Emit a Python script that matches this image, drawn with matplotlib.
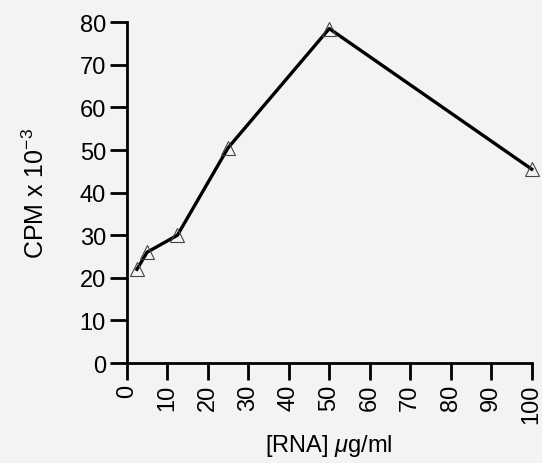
import matplotlib
matplotlib.use("Agg")
import matplotlib.pyplot as plt

rna = [2.5, 5, 12.5, 25, 50, 100]
cpm = [22, 26, 30, 50.5, 78.5, 45.5]
xticks = [0, 10, 20, 30, 40, 50, 60, 70, 80, 90, 100]
yticks = [0, 10, 20, 30, 40, 50, 60, 70, 80]

plt.rcParams['font.family'] = ['Liberation Sans', 'DejaVu Sans']
plt.rcParams['mathtext.fontset'] = 'custom'
plt.rcParams['mathtext.rm'] = 'Liberation Sans'
plt.rcParams['mathtext.it'] = 'Liberation Sans:italic'

fig = plt.figure(figsize=(5.42, 4.64), dpi=100, facecolor='#f3f3f3')
ax = fig.add_axes([0.234, 0.2155, 0.747, 0.7345])
ax.set_facecolor('#f3f3f3')
ax.plot(rna, cpm, color='black', lw=2.4, marker='^', markersize=10,
        markerfacecolor='none', markeredgecolor='#444444', markeredgewidth=0.8,
        clip_on=False)
ax.set_xlim(0, 100)
ax.set_ylim(0, 80)
ax.set_xticks(xticks)
ax.set_yticks(yticks)
ax.set_xticklabels([str(t) for t in xticks], rotation=90)
for s in ['top', 'right']:
    ax.spines[s].set_visible(False)
for s in ['left', 'bottom']:
    ax.spines[s].set_linewidth(2)
ax.tick_params(direction='out', length=12, width=2, labelsize=17, pad=3)
ax.set_xlabel(r'[RNA] $\mu$g/ml', fontsize=17, labelpad=6)
ax.set_ylabel(r'CPM x 10$^{\mathrm{-3}}$', fontsize=18, labelpad=22)
fig.savefig('out.png', dpi=100, facecolor=fig.get_facecolor())
